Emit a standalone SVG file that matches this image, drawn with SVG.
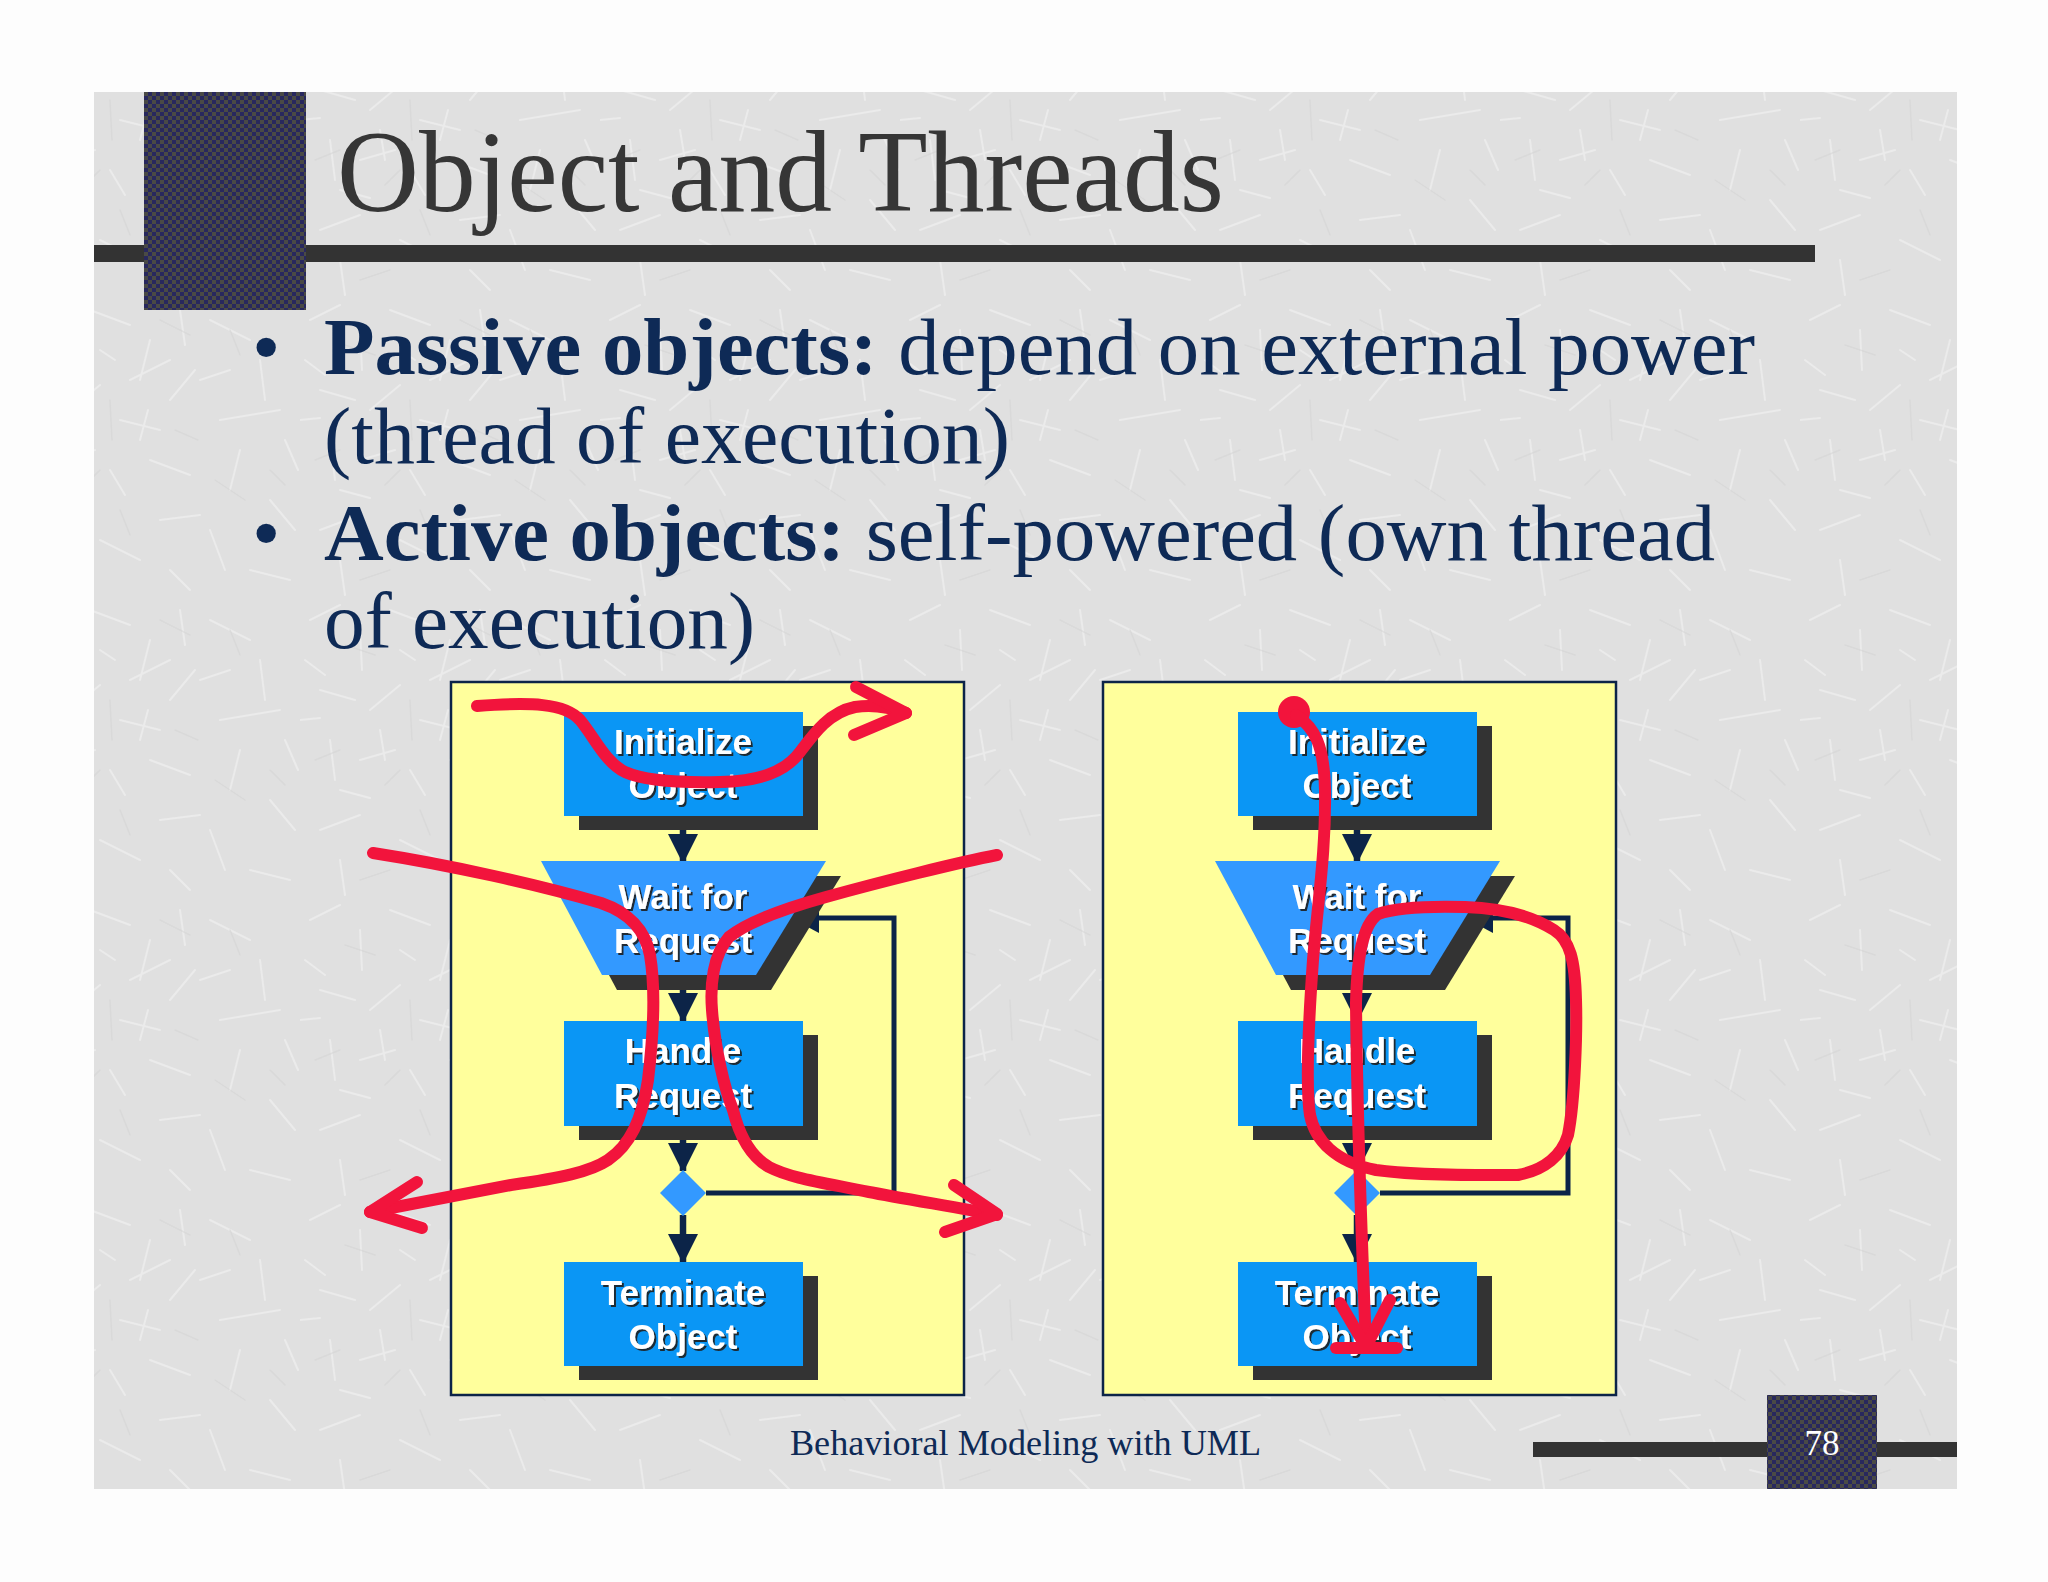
<svg xmlns="http://www.w3.org/2000/svg" width="2048" height="1582" viewBox="0 0 2048 1582">
<defs>
<pattern id="tex" x="0" y="0" width="300" height="300" patternUnits="userSpaceOnUse">
<rect width="300" height="300" fill="#e0e0e0"/>
<g stroke="#f2f2f2" stroke-width="2" stroke-linecap="round" opacity="0.6" fill="none">
<path d="M10,20 L40,5 M60,30 L62,70 M90,10 L130,25 M150,40 L140,80 M20,90 L55,100 M70,110 L100,85 M120,120 L160,130 M170,100 L195,70 M30,140 L35,180 M60,160 L95,150 M110,170 L125,195 M150,160 L190,175 M5,60 L25,75 M180,10 L185,45 M100,50 L115,60 M40,190 L70,198 M130,80 L170,60 M80,130 L85,160 M0,120 L20,118 M140,140 L148,110 M210,20 L250,40 M260,60 L265,100 M220,120 L280,110 M240,150 L230,190 M270,200 L295,230 M210,230 L225,270 M160,220 L200,215 M100,240 L140,260 M20,230 L60,215 M40,260 L45,295 M170,270 L190,290 M250,270 L290,280 M285,140 L298,170 M200,80 L230,70"/>
</g>
<g stroke="#d2d2d2" stroke-width="1.5" stroke-linecap="round" opacity="0.55" fill="none">
<path d="M45,45 L75,55 M110,100 L112,140 M160,20 L190,35 M15,160 L40,150 M85,185 L100,170 M175,130 L198,140 M230,30 L240,55 M270,170 L285,185 M120,210 L130,235 M60,280 L90,270 M215,180 L245,200"/>
</g>
</pattern>
<pattern id="dots" x="0" y="0" width="8" height="8" patternUnits="userSpaceOnUse">
<rect width="8" height="8" fill="#4a4a45"/>
<rect x="0" y="0" width="4" height="4" fill="#28285e"/>
<rect x="4" y="4" width="4" height="4" fill="#28285e"/>
</pattern>
<marker id="arr" markerUnits="userSpaceOnUse" markerWidth="30" markerHeight="30" refX="28" refY="15" orient="auto" viewBox="0 0 30 30">
<path d="M0,0 L30,15 L0,30 Z" fill="#0c2448"/>
</marker>
<marker id="arrL" markerUnits="userSpaceOnUse" markerWidth="28" markerHeight="30" refX="26" refY="15" orient="auto" viewBox="0 0 28 30">
<path d="M0,0 L28,15 L0,30 Z" fill="#0c2448"/>
</marker>
<filter id="tshadow" x="-10%" y="-10%" width="130%" height="140%">
<feDropShadow dx="2" dy="2" stdDeviation="0.6" flood-color="#1a1a1a" flood-opacity="0.9"/>
</filter>
</defs>
<style>
.page{fill:#fdfdfd}
.slide{fill:url(#tex)}
.darksq{fill:url(#dots)}
.bar{fill:#333333}
.title{font-family:"Liberation Serif","Times New Roman",serif;font-size:116px;fill:#363636}
.bul{font-family:"Liberation Serif","Times New Roman",serif;font-size:81px;fill:#0e2a56}
.b{font-weight:bold}
.foot{font-family:"Liberation Serif","Times New Roman",serif;font-size:35px;fill:#0e2a56}
.pnum{font-family:"Liberation Serif","Times New Roman",serif;font-size:35px;fill:#ffffff}
.panel{fill:#ffff9c;stroke:#0c2448;stroke-width:2.5}
.box{fill:#0a96f5}
.trap{fill:#3399ff}
.shadow{fill:#333333}
.lbl{font-family:"Liberation Sans",Arial,sans-serif;font-weight:bold;font-size:35px;fill:#ffffff;text-anchor:middle;filter:url(#tshadow)}
.conn{stroke:#0c2448;stroke-width:6.5;fill:none}
.loop{stroke:#0c2448;stroke-width:5;fill:none}
.red{stroke:#f2143c;stroke-width:12;fill:none;stroke-linecap:round;stroke-linejoin:round}
</style>
<rect class="page" x="0" y="0" width="2048" height="1582"/>
<rect class="slide" x="94" y="92" width="1863" height="1397"/>
<rect class="bar" x="94" y="245" width="1721" height="17"/>
<rect class="darksq" x="144" y="92" width="162" height="218"/>
<text class="title" x="337" y="211" textLength="887" lengthAdjust="spacingAndGlyphs">Object and Threads</text>
<text class="bul" x="252" y="374">•</text>
<text class="bul" x="324" y="374" textLength="1431" lengthAdjust="spacingAndGlyphs"><tspan class="b">Passive objects:</tspan> depend on external power</text>
<text class="bul" x="324" y="463" textLength="686" lengthAdjust="spacingAndGlyphs">(thread of execution)</text>
<text class="bul" x="252" y="560">•</text>
<text class="bul" x="324" y="560" textLength="1391" lengthAdjust="spacingAndGlyphs"><tspan class="b">Active objects:</tspan> self-powered (own thread</text>
<text class="bul" x="324" y="648" textLength="431" lengthAdjust="spacingAndGlyphs">of execution)</text>

<rect class="bar" x="1533" y="1442" width="424" height="15"/>
<rect class="darksq" x="1767" y="1395" width="110" height="94"/>
<text class="pnum" x="1822" y="1455" text-anchor="middle">78</text>
<text class="foot" x="790" y="1455" textLength="471" lengthAdjust="spacingAndGlyphs">Behavioral Modeling with UML</text>

<rect id="panel-passive" class="panel" x="451" y="682" width="513" height="713"/>
<rect id="panel-active" class="panel" x="1103" y="682" width="513" height="713"/>

<g id="connectors">
<line class="conn" x1="683" y1="816" x2="683" y2="862" marker-end="url(#arr)"/>
<line class="conn" x1="683" y1="975" x2="683" y2="1021" marker-end="url(#arr)"/>
<line class="conn" x1="683" y1="1126" x2="683" y2="1171" marker-end="url(#arr)"/>
<line class="conn" x1="683" y1="1215" x2="683" y2="1262" marker-end="url(#arr)"/>
<polyline class="loop" points="706,1193 894,1193 894,918 793,918" marker-end="url(#arrL)"/>
<line class="conn" x1="1357" y1="816" x2="1357" y2="862" marker-end="url(#arr)"/>
<line class="conn" x1="1357" y1="975" x2="1357" y2="1021" marker-end="url(#arr)"/>
<line class="conn" x1="1357" y1="1126" x2="1357" y2="1171" marker-end="url(#arr)"/>
<line class="conn" x1="1357" y1="1215" x2="1357" y2="1262" marker-end="url(#arr)"/>
<polyline class="loop" points="1380,1193 1568,1193 1568,918 1467,918" marker-end="url(#arrL)"/>
</g>

<g id="p-init">
<rect class="shadow" x="579" y="726" width="239" height="104"/>
<rect class="box" x="564" y="712" width="239" height="104"/>
<text class="lbl" x="683" y="754">Initialize</text>
<text class="lbl" x="683" y="798">Object</text>
</g>
<g id="p-wait">
<polygon class="shadow" points="556,876 841,876 771,990 617,990"/>
<polygon class="trap" points="541,861 826,861 756,975 602,975"/>
<text class="lbl" x="683" y="909">Wait for</text>
<text class="lbl" x="683" y="953">Request</text>
</g>
<g id="p-handle">
<rect class="shadow" x="579" y="1035" width="239" height="105"/>
<rect class="box" x="564" y="1021" width="239" height="105"/>
<text class="lbl" x="683" y="1063">Handle</text>
<text class="lbl" x="683" y="1108">Request</text>
</g>
<g id="p-decision">
<polygon class="trap" points="683,1170 706,1193 683,1216 660,1193"/>
</g>
<g id="p-term">
<rect class="shadow" x="579" y="1276" width="239" height="104"/>
<rect class="box" x="564" y="1262" width="239" height="104"/>
<text class="lbl" x="683" y="1305">Terminate</text>
<text class="lbl" x="683" y="1349">Object</text>
</g>

<g id="a-init">
<rect class="shadow" x="1253" y="726" width="239" height="104"/>
<rect class="box" x="1238" y="712" width="239" height="104"/>
<text class="lbl" x="1357" y="754">Initialize</text>
<text class="lbl" x="1357" y="798">Object</text>
</g>
<g id="a-wait">
<polygon class="shadow" points="1230,876 1515,876 1445,990 1291,990"/>
<polygon class="trap" points="1215,861 1500,861 1430,975 1276,975"/>
<text class="lbl" x="1357" y="909">Wait for</text>
<text class="lbl" x="1357" y="953">Request</text>
</g>
<g id="a-handle">
<rect class="shadow" x="1253" y="1035" width="239" height="105"/>
<rect class="box" x="1238" y="1021" width="239" height="105"/>
<text class="lbl" x="1357" y="1063">Handle</text>
<text class="lbl" x="1357" y="1108">Request</text>
</g>
<g id="a-decision">
<polygon class="trap" points="1357,1170 1380,1193 1357,1216 1334,1193"/>
</g>
<g id="a-term">
<rect class="shadow" x="1253" y="1276" width="239" height="104"/>
<rect class="box" x="1238" y="1262" width="239" height="104"/>
<text class="lbl" x="1357" y="1305">Terminate</text>
<text class="lbl" x="1357" y="1349">Object</text>
</g>

<g id="annotations">
<path class="red" d="M477,706 C530,702 565,703 580,720 C595,738 605,762 625,772 C645,781 680,783 720,782 C760,781 785,772 800,752 C815,732 830,712 855,707 C875,704 895,709 906,713"/>
<path class="red" d="M856,687 L906,713 L854,735"/>
<path class="red" d="M373,853 C450,865 540,885 601,903 C630,913 645,930 650,955 C655,985 654,1030 648,1080 C642,1120 630,1145 608,1160 C590,1172 560,1178 511,1185 C460,1195 410,1204 370,1212"/>
<path class="red" d="M417,1182 L370,1212 L422,1228"/>
<path class="red" d="M997,855 C960,862 880,882 826,897 C790,907 750,920 729,937 C713,955 710,985 712,1010 C715,1050 725,1090 733,1110 C738,1130 748,1155 769,1167 C790,1178 820,1182 869,1192 C900,1198 960,1208 997,1215"/>
<path class="red" d="M954,1185 L997,1214 L945,1232"/>
<circle cx="1294" cy="712" r="16" fill="#f2143c"/>
<path class="red" d="M1296,715 C1315,728 1324,745 1325,790 C1326,850 1318,900 1313,960 C1308,1030 1306,1090 1310,1115 C1315,1140 1335,1162 1376,1170 C1420,1176 1480,1175 1518,1175 C1545,1170 1562,1155 1568,1135 C1575,1100 1577,1030 1576,1000 C1575,960 1570,940 1554,930 C1530,915 1500,908 1465,907 C1430,906 1395,908 1378,914 C1362,925 1357,960 1356,1003 C1357,1100 1362,1250 1366,1345"/>
<path class="red" d="M1340,1303 L1366,1347 L1390,1300"/>
<path class="red" d="M1336,1348 L1397,1348"/>
</g>
</svg>
